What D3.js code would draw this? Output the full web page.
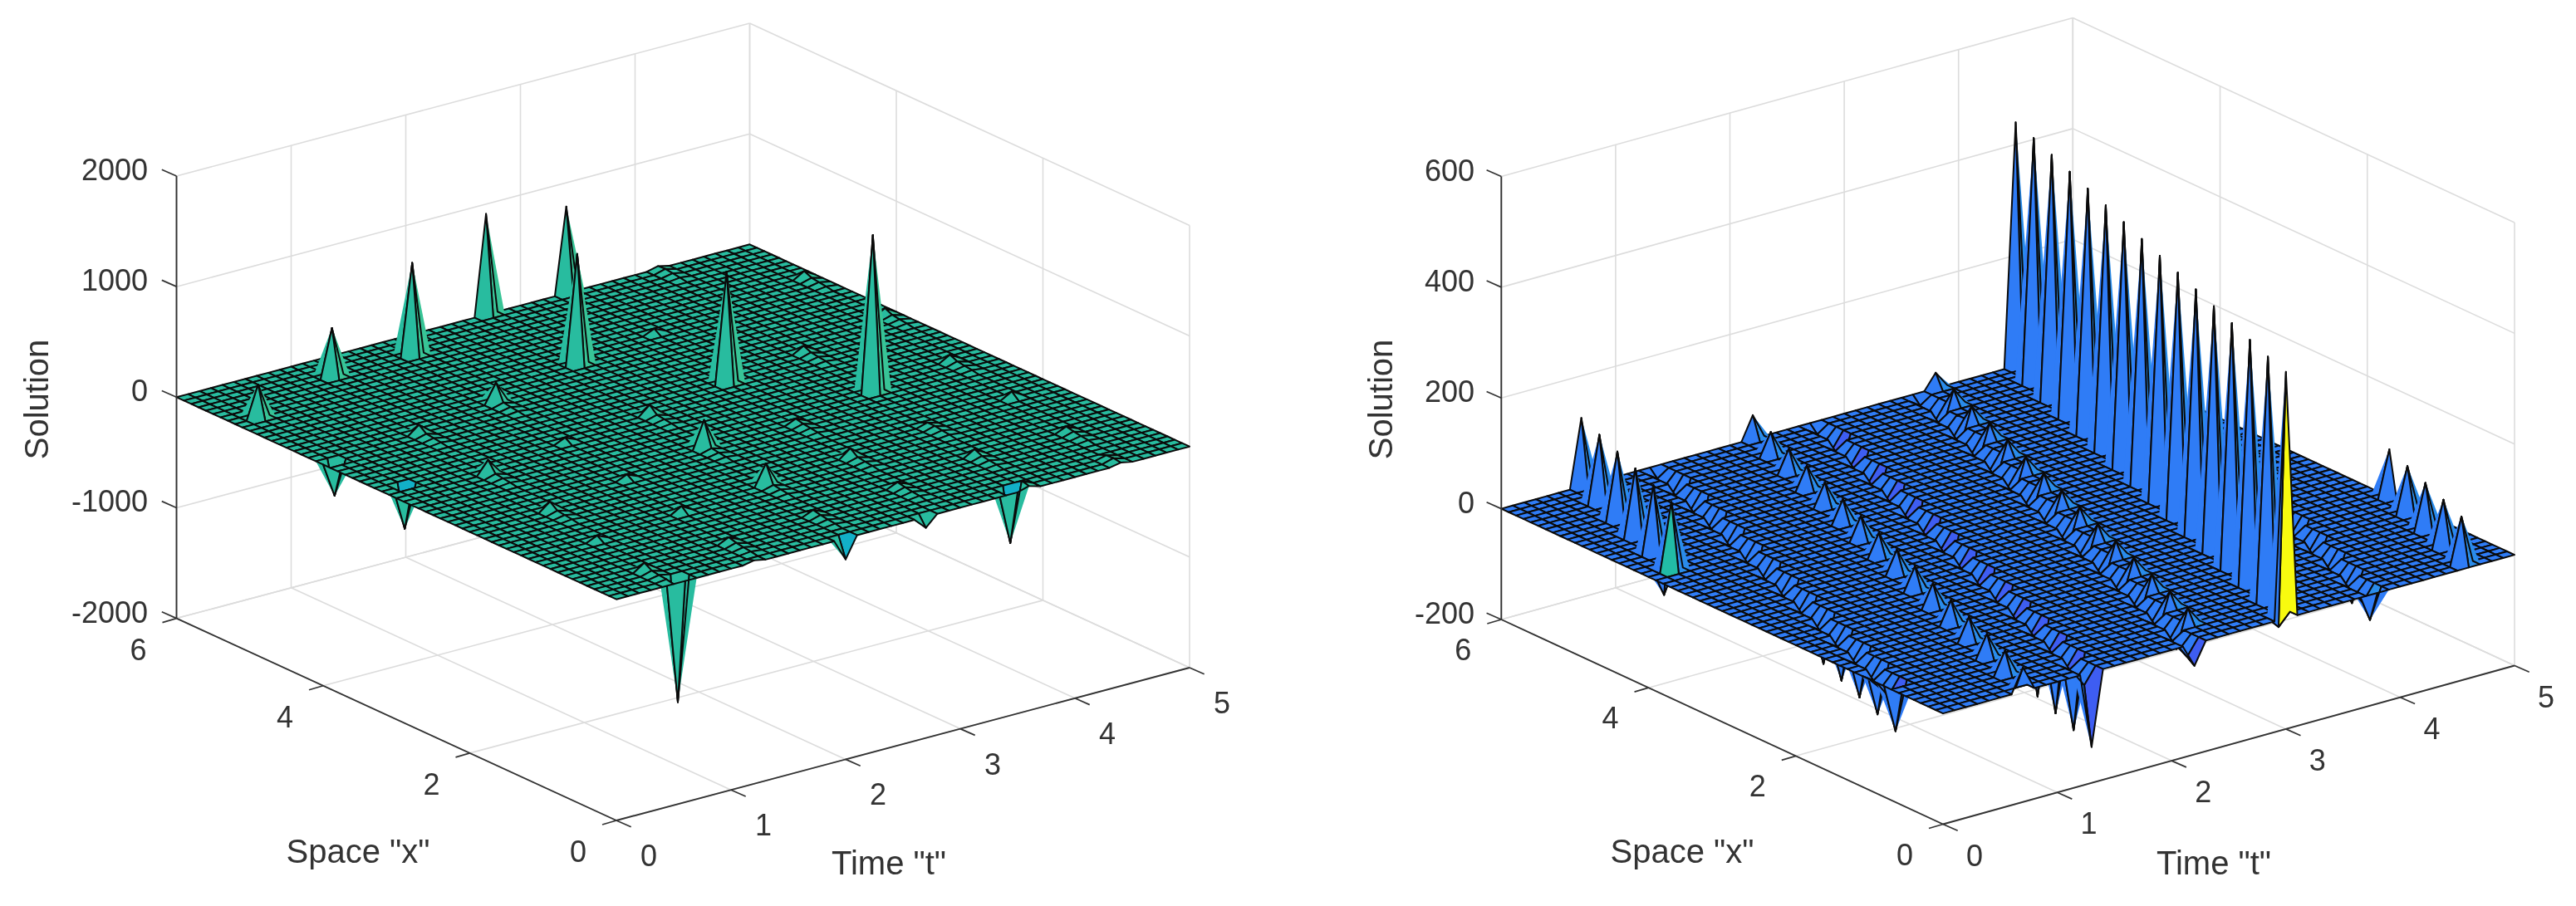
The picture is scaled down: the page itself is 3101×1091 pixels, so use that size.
<!DOCTYPE html>
<html><head><meta charset="utf-8">
<style>html,body{margin:0;padding:0;background:#fff}svg{display:block;filter:blur(0.5px)}text{font-family:"Liberation Sans",Arial,sans-serif;fill:#333}</style>
<script src="https://cdnjs.cloudflare.com/ajax/libs/d3/7.8.5/d3.min.js"></script>
</head><body><svg id="c" width="3101" height="1091"></svg>
<script>
// ---- tick labels / grid ----
const xTicks=[0,2,4,6], tTicks=[0,1,2,3,4,5];
const zTicksL=[-2000,-1000,0,1000,2000], zTicksR=[-200,0,200,400,600];
const xLabel='Space "x"', tLabel='Time "t"', zLabel='Solution';
const xCells=60, tCells=50;
// ---- left surface: big peaks (grid indices i=x cell, j=t cell) ----
const lPeakI=[52,56,56,60,60,46,35,26];
const lPeakJ=[2,11,18,27,34,26,32,39];
const lPeakZ=[303,443,839,912,785,1003,1014,1425];
// ---- left surface: small bumps ----
const lBumpI=[43,41,30,20,33,24,14,4,5,51,40,37,28,24,17,15,9,7,6,9,2,1,60,0];
const lBumpJ=[17,9,8,7,24,23,22,5,13,49,49,40,47,31,38,30,37,29,21,45,44,36,42,12];
const lBumpZ=[180,80,125,80,90,255,195,70,50,60,60,60,60,45,30,80,60,45,45,45,25,45,25,20];
const lTailZ=[30,20,12];
// ---- left surface: downward spikes ----
const lPitI=[1,0,1,40,32,0];
const lPitJ=[6,20,35,1,2,27];
const lPitZ=[-1126,-192,-490,-310,-392,-100];
// ---- left surface: small coloured cells ----
const lCyanI=[32,22,12,48], lCyanJ=[16,15,6,34], lCyanZ=[45,45,45,45];
const lPurpleI=[13,18], lPurpleJ=[14,46], lPurpleZ=[60,60];
const lCyanCellI=[32,0,1], lCyanCellJ=[2,20,35];
// ---- right surface: ridges ----
const rR1I=[60,56,52,48,44,40], rR1J=[7,6,5,4,3,2], rR1Z=[124,124,124,124,124,124];
const rR2I=[8,12,16,20,24,28,32,36,40,44,48,52,56], rR2J=[1,2,3,4,5,6,7,8,9,10,11,12,13], rR2Z=[-87,-87,-87,-87,-87,-87,-87,-87,-87,-87,-87,-87,-87];
const rR3I=[0,4,8,12,16,20,24,28,32,36,40,44,48,52,56,60], rR3J=[7,8,9,10,11,12,13,14,15,16,17,18,19,20,21,22], rR3Z=[43,43,43,43,43,43,43,43,43,43,43,43,43,43,43,43];
const rR4I=[0,4,8,12,16,20,24,28,32,36,40,44,48,52,56], rR4J=[13,14,15,16,17,18,19,20,21,22,23,24,25,26,27], rR4Z=[-135,-135,-135,-135,-135,-135,-130,-125,-120,-110,-100,-90,-80,-70,-60];
const rR5I=[0,4,8,12,16,20,24,28,32,36,40,44,48,52,56], rR5J=[22,23,24,25,26,27,28,29,30,31,32,33,34,35,36], rR5Z=[-40,-40,-40,-40,-40,-40,-40,-40,-40,-40,-40,-40,-40,-40,-40];
const rR6I=[4,8,12,16,20,24,28,32,36,40,44,48,52,56,60], rR6J=[24,25,26,27,28,29,30,31,32,33,34,35,36,37,38], rR6Z=[28,28,28,28,28,28,28,28,28,28,28,28,28,28,28];
const rR7I=[0,4,8,12,16,20,24,28,32,36,40,44,48,52,56,60], rR7J=[30,31,32,33,34,35,36,37,38,39,40,41,42,43,44,45], rR7Z=[445,442,442,442,442,442,442,442,442,442,442,442,442,442,442,440];
const rR8I=[1,5,9,13,17,21,25,29,33,37,41,45,49], rR8J=[38,39,40,41,42,43,44,45,46,47,48,49,50], rR8Z=[-55,-55,-55,-55,-55,-55,-55,-55,-55,-55,-55,-55,-55];
const rR9I=[1,5,9,13,17], rR9J=[46,47,48,49,50], rR9Z=[86,86,86,86,86];
const rDipI=[41,45,49,53,57], rDipJ=[2,3,4,5,6], rDipZ=[-50,-30,-30,-30,-30];
const rDip2Z=[-22,-22,-22,-22,-22,-22,-22,-22,-22,-22,-22,-22,-22,-22,-22];
const rShelfZ=[-30,-22,-14];

const svg=d3.select('#c');
const line=d3.line();
const tri=(a,b,c)=>{const s=(b[0]-a[0])*(c[1]-a[1])-(b[1]-a[1])*(c[0]-a[0]);return line(s<0?[a,c,b]:[a,b,c])+'Z';};

function panel(cfg){
  const xs={x:d3.scaleLinear([0,6],[0,cfg.xv[0]]),y:d3.scaleLinear([0,6],[0,cfg.xv[1]])};
  const ts={x:d3.scaleLinear([0,5],[0,cfg.tv[0]]),y:d3.scaleLinear([0,5],[0,cfg.tv[1]])};
  const zs=d3.scaleLinear(cfg.zd,[0,cfg.zh]);
  const P=(x,t,z)=>[cfg.o[0]+xs.x(x)+ts.x(t),cfg.o[1]+xs.y(x)+ts.y(t)+zs(z)];
  const g=svg.append('g');
  const [zmin,zmax]=cfg.zd;
  const seg=(a,b,c,w)=>g.append('path').attr('d',line([a,b])).attr('stroke',c).attr('stroke-width',w).attr('fill','none');
  const gc='#dcdcdc',gw=1.6;
  for(const x of xTicks){seg(P(x,0,zmin),P(x,5,zmin),gc,gw);seg(P(x,5,zmin),P(x,5,zmax),gc,gw);}
  for(const t of tTicks){seg(P(0,t,zmin),P(6,t,zmin),gc,gw);seg(P(6,t,zmin),P(6,t,zmax),gc,gw);}
  for(const z of cfg.zt){seg(P(6,0,z),P(6,5,z),gc,gw);seg(P(6,5,z),P(0,5,z),gc,gw);}
  const nI=xCells+1,nJ=tCells+1;
  const Z=d3.range(nI).map(()=>d3.range(nJ).map(()=>0));
  const C=d3.range(nI).map(()=>d3.range(nJ).map(()=>cfg.base));
  cfg.fill(Z,C);
  const marks=[];
  const gx=i=>i*6/xCells, gt=j=>j*5/tCells;
  for(let i=xCells-1;i>=0;i--)for(let j=tCells-1;j>=0;j--){
    const v=[[i,j],[i+1,j],[i+1,j+1],[i,j+1]];
    const p=v.map(([a,b])=>P(gx(a),gt(b),Z[a][b]));
    const zz=v.map(([a,b])=>Math.abs(Z[a][b]));
    const m=zz.indexOf(d3.max(zz));
    const a=p[m],b=p[(m+1)%4],c=p[(m+2)%4],d=p[(m+3)%4];
    marks.push({d:tri(a,b,c)+tri(a,c,d),fill:C[i][j],stroke:'none'});
    marks.push({d:line(p)+'Z',fill:'none',stroke:'#0a0a0a'});
  }
  g.append('g').selectAll('path').data(marks).join('path')
    .attr('d',d=>d.d).attr('fill',d=>d.fill).attr('stroke',d=>d.stroke)
    .attr('stroke-width',d=>d.stroke==='none'?0:cfg.mesh).attr('stroke-linejoin','round');
  const ax='#333',aw=1.9,tl=cfg.tick;
  seg(P(6,0,zmin),P(6,0,zmax),ax,aw);
  seg(P(6,0,zmin),P(0,0,zmin),ax,aw);
  seg(P(0,0,zmin),P(0,5,zmin),ax,aw);
  const lab=(p,s,anchor,rot)=>{const t=g.append('text').attr('x',p[0]).attr('y',p[1]).attr('text-anchor',anchor||'middle').attr('font-size',36).text(s);if(rot)t.attr('transform',`rotate(-90 ${p[0]} ${p[1]})`);return t;};
  for(const z of cfg.zt){const a=P(6,0,z);seg(a,[a[0]-tl[0],a[1]-tl[1]],ax,1.7);
    lab([cfg.zlx,a[1]-8+13],String(z),'end');}
  for(const x of xTicks){const a=P(x,0,zmin);seg(a,[a[0]-tl[2],a[1]+tl[3]],ax,1.7);
    lab([a[0]+cfg.xlo[0],a[1]+cfg.xlo[1]+13],String(x));}
  for(const t of tTicks){const a=P(0,t,zmin);seg(a,[a[0]+tl[0],a[1]+tl[1]],ax,1.7);
    lab([a[0]+cfg.tlo[0],a[1]+cfg.tlo[1]+13],String(t));}
  lab(cfg.xtp,xLabel).attr('font-size',40);
  lab(cfg.ttp,tLabel).attr('font-size',40);
  lab(cfg.ztp,zLabel,'middle',true).attr('font-size',40);
}

const set=(Z,I,J,V)=>I.forEach((a,k)=>{if(a<=xCells&&J[k]<=tCells)Z[a][J[k]]=V[k];});
const col=(C,I,J,c)=>I.forEach((a,k)=>{if(a>=0&&a<xCells&&J[k]<tCells)C[a][J[k]]=c;});
const left=I=>I.map(a=>a-1);
const shelf=(Z,I,J)=>I.forEach((a,k)=>rShelfZ.forEach((v,m)=>{if(a+m+1<=xCells&&J[k]<=tCells)Z[a+m+1][J[k]]=v;}));

panel({o:[742,988],xv:[-529.5,-243.4],tv:[690,-184],zd:[-2000,2000],zh:-532.6,zt:zTicksL,base:'#28bc9f',mesh:2,
  tick:[17.7,7.8,17,5],zlx:178,xlo:[-46,37],tlo:[39,42],xtp:[431,1039],ttp:[1070,1053],ztp:[58,481],
  fill(Z,C){
    set(Z,lPeakI,lPeakJ,lPeakZ);
    col(C,left(lPeakI),lPeakJ,'#38c496');
    lBumpI.forEach((a,k)=>lTailZ.forEach((v,m)=>{if(a-m-1>=0)Z[a-m-1][lBumpJ[k]]=v;}));
    set(Z,lBumpI,lBumpJ,lBumpZ);
    col(C,left(lBumpI),lBumpJ,'#32c09a');
    set(Z,lPitI,lPitJ,lPitZ);
    set(Z,lCyanI,lCyanJ,lCyanZ);col(C,lCyanI,lCyanJ,'#12a8d2');
    set(Z,lPurpleI,lPurpleJ,lPurpleZ);col(C,lPurpleI,lPurpleJ,'#3f2fc4');
    col(C,lCyanCellI,lCyanCellJ,'#12b0c8');
  }});

panel({o:[2339,992.5],xv:[-531.7,-246.5],tv:[688,-191],zd:[-200,600],zh:-533.5,zt:zTicksR,base:'#2f7cf6',mesh:2,
  tick:[17.7,7.8,17,5],zlx:1775,xlo:[-46,36],tlo:[38,37],xtp:[2025,1039],ttp:[2665,1053],ztp:[1676,481],
  fill(Z,C){
    const L='#2a8cea',IN='#3e5df2';
    shelf(Z,rR2I,rR2J);shelf(Z,rR4I,rR4J);shelf(Z,rR5I,rR5J);shelf(Z,rR8I,rR8J);
    set(Z,rR1I,rR1J,rR1Z);col(C,left(rR1I),rR1J,L);
    set(Z,rR2I,rR2J,rR2Z);
    set(Z,rR3I,rR3J,rR3Z);col(C,left(rR3I),rR3J,L);
    set(Z,rR4I,rR4J,rR4Z);col(C,rR4I,rR4J,IN);
    set(Z,rR5I,rR5J,rR5Z);
    set(Z,rR6I,rR6J,rR6Z);col(C,left(rR6I),rR6J,L);
    set(Z,rR7I,rR7J,rR7Z);col(C,left(rR7I),rR7J,L);
    set(Z,rR7I.slice(0,15).map(a=>a+1),rR7J.slice(0,15),rDip2Z);
    set(Z,rR8I,rR8J,rR8Z);
    set(Z,rR9I,rR9J,rR9Z);col(C,left(rR9I),rR9J,L);
    set(Z,rDipI,rDipJ,rDipZ);
    col(C,[39],[1],'#22bca6');
    col(C,[0],[30],'#f8fa0f');
    col(C,[8],[1],IN);col(C,[0],[22],IN);col(C,[1],[38],L);
  }});
</script></body></html>
